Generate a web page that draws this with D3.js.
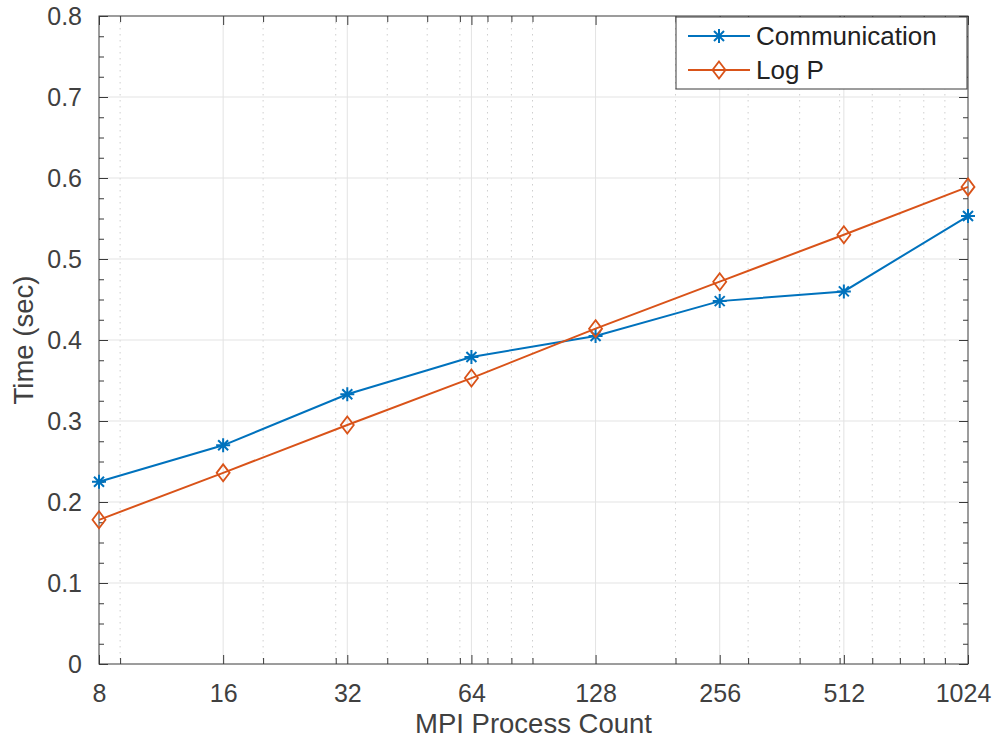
<!DOCTYPE html>
<html>
<head>
<meta charset="utf-8">
<script src="https://cdn.jsdelivr.net/npm/d3@7"></script>
<style>
  body { margin: 0; background: #fff; }
  svg { font-family: "Liberation Sans", Arial, Helvetica, sans-serif; }
</style>
</head>
<body>
<svg width="993" height="740"></svg>
<script>
// process counts (x) and timings
const procs = [8, 16, 32, 64, 128, 256, 512, 1024];
const commTime = [0.225, 0.270, 0.333, 0.379, 0.405, 0.448, 0.460, 0.553];
const logPTime = [0.178, 0.236, 0.295, 0.353, 0.414, 0.472, 0.530, 0.589];
const seriesNames = ['Communication', 'Log P'];

// ticks
const xTicks = [8, 16, 32, 64, 128, 256, 512, 1024];
const xMinor = [9, 20, 30, 40, 50, 60, 70, 80, 90, 200, 300, 400, 500, 600, 700, 800, 900];
const yTicks = [0, 0.1, 0.2, 0.3, 0.4, 0.5, 0.6, 0.7, 0.8];
const yMinor = d3.range(0, 0.8001, 0.025);

function makeChart () {
  let svg = d3.select('svg');
  const left = 99, right = 968, top = 16, bottom = 664;
  const axCol = '#3a3a3a';
  const txtCol = '#404040';
  const blue = '#0072BD', orange = '#D95319';

  const scX = d3.scaleLog().base(2).domain([8, 1024]).range([left, right]);
  const scY = d3.scaleLinear().domain([0, 0.8]).range([bottom, top]);

  // grid
  const grid = svg.append('g');
  grid.selectAll('line.minx').data(xMinor).enter()
    .append('line')
    .attr('x1', d => scX(d)).attr('x2', d => scX(d))
    .attr('y1', top).attr('y2', bottom)
    .attr('stroke', '#cfcfcf').attr('stroke-width', 1)
    .attr('stroke-dasharray', '1.5,4.5');
  grid.selectAll('line.majx').data(xTicks.slice(1, -1)).enter()
    .append('line')
    .attr('x1', d => scX(d)).attr('x2', d => scX(d))
    .attr('y1', top).attr('y2', bottom)
    .attr('stroke', '#e3e3e3').attr('stroke-width', 1);
  grid.selectAll('line.majy').data(yTicks.slice(1, -1)).enter()
    .append('line')
    .attr('x1', left).attr('x2', right)
    .attr('y1', d => scY(d)).attr('y2', d => scY(d))
    .attr('stroke', '#e3e3e3').attr('stroke-width', 1);

  // axes with mirrored ticks (box on)
  const fmtY = d => d === 0 ? '0' : d3.format('.1f')(d);
  const styleAx = (g) => {
    g.select('.domain').remove();
    g.selectAll('line').attr('stroke', axCol);
    g.selectAll('text').attr('fill', txtCol).attr('font-size', 25);
  };
  svg.append('g').attr('transform', 'translate(0,' + bottom + ')')
    .call(d3.axisBottom(scX).tickValues(xMinor).tickSize(-6).tickFormat(''))
    .call(styleAx);
  const xAx = svg.append('g').attr('transform', 'translate(0,' + bottom + ')')
    .call(d3.axisBottom(scX).tickValues(xTicks).tickSize(-9).tickPadding(20)
      .tickFormat(d3.format('d')))
    .call(styleAx);
  // keep the last label inside the window
  xAx.selectAll('.tick text').filter(d => d === 1024).attr('dx', -5);
  svg.append('g').attr('transform', 'translate(0,' + top + ')')
    .call(d3.axisTop(scX).tickValues(xMinor).tickSize(-6).tickFormat(''))
    .call(styleAx);
  svg.append('g').attr('transform', 'translate(0,' + top + ')')
    .call(d3.axisTop(scX).tickValues(xTicks).tickSize(-9).tickFormat(''))
    .call(styleAx);
  svg.append('g').attr('transform', 'translate(' + left + ',0)')
    .call(d3.axisLeft(scY).tickValues(yMinor).tickSize(-5).tickFormat(''))
    .call(styleAx);
  svg.append('g').attr('transform', 'translate(' + left + ',0)')
    .call(d3.axisLeft(scY).tickValues(yTicks).tickSize(-9).tickPadding(17).tickFormat(fmtY))
    .call(styleAx);
  svg.append('g').attr('transform', 'translate(' + right + ',0)')
    .call(d3.axisRight(scY).tickValues(yMinor).tickSize(-5).tickFormat(''))
    .call(styleAx);
  svg.append('g').attr('transform', 'translate(' + right + ',0)')
    .call(d3.axisRight(scY).tickValues(yTicks).tickSize(-9).tickFormat(''))
    .call(styleAx);

  svg.append('rect')
    .attr('x', left).attr('y', top)
    .attr('width', right - left).attr('height', bottom - top)
    .attr('fill', 'none').attr('stroke', axCol).attr('stroke-width', 1);

  // labels
  svg.append('text')
    .attr('x', (left + right) / 2).attr('y', 733)
    .attr('text-anchor', 'middle').attr('font-size', 27.5).attr('fill', txtCol)
    .text('MPI Process Count');
  svg.append('text')
    .attr('transform', 'translate(33,' + (top + bottom) / 2 + ') rotate(-90)')
    .attr('text-anchor', 'middle').attr('font-size', 27.5).attr('fill', txtCol)
    .text('Time (sec)');

  // markers
  const star = (g, x, y, col) => {
    const a = 7, b = 5;
    g.append('path')
      .attr('d', `M${x - a},${y}H${x + a}M${x},${y - a}V${y + a}` +
        `M${x - b},${y - b}L${x + b},${y + b}M${x - b},${y + b}L${x + b},${y - b}`)
      .attr('stroke', col).attr('stroke-width', 2).attr('fill', 'none');
  };
  const diamond = (g, x, y, col) => {
    const w = 6.5, h = 8.5;
    g.append('path')
      .attr('d', `M${x},${y - h}L${x + w},${y}L${x},${y + h}L${x - w},${y}Z`)
      .attr('stroke', col).attr('stroke-width', 1.8).attr('fill', 'none');
  };

  const drawSeries = (vals, col, mark) => {
    const g = svg.append('g');
    const lnMkr = d3.line().x((d, i) => scX(procs[i])).y(d => scY(d));
    g.append('path').attr('fill', 'none').attr('stroke', col)
      .attr('stroke-width', 2).attr('d', lnMkr(vals));
    vals.forEach((v, i) => mark(g, scX(procs[i]), scY(v), col));
  };
  drawSeries(commTime, blue, star);
  drawSeries(logPTime, orange, diamond);

  // legend
  const lg = svg.append('g');
  lg.append('rect')
    .attr('x', 676).attr('y', 17).attr('width', 291).attr('height', 72)
    .attr('fill', '#fff').attr('stroke', axCol).attr('stroke-width', 1);
  const cols = [blue, orange];
  const marks = [star, diamond];
  seriesNames.forEach((name, i) => {
    const y = 36 + i * 34;
    lg.append('line').attr('x1', 688).attr('x2', 750)
      .attr('y1', y).attr('y2', y)
      .attr('stroke', cols[i]).attr('stroke-width', 2);
    marks[i](lg, 719, y, cols[i]);
    lg.append('text')
      .attr('x', 756).attr('y', y + 9)
      .attr('font-size', 26).attr('fill', '#222')
      .text(name);
  });
}
makeChart();
</script>
</body>
</html>
